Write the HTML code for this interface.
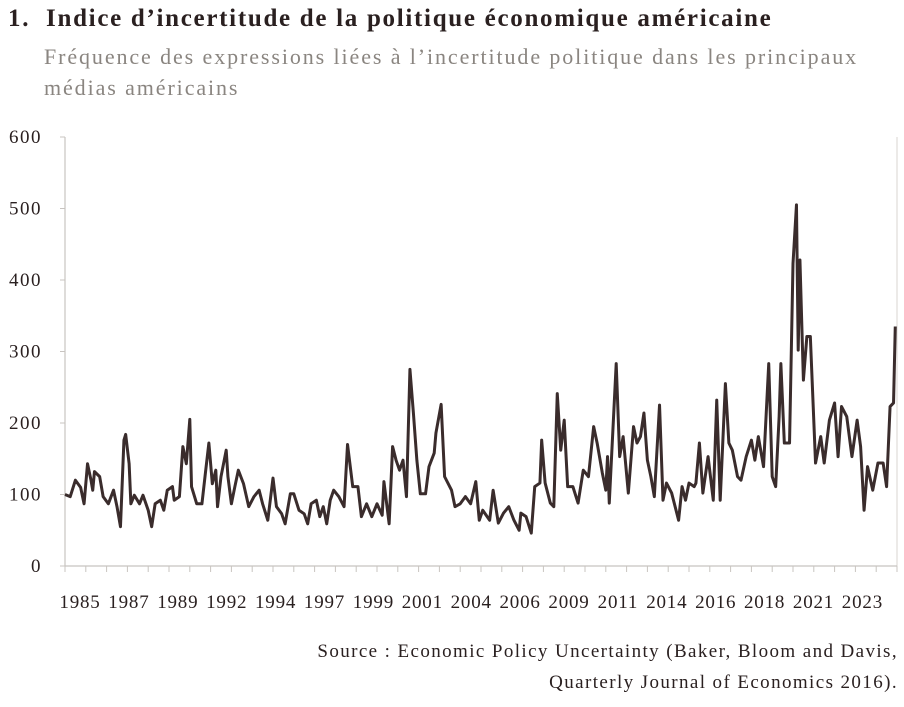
<!DOCTYPE html>
<html><head><meta charset="utf-8"><style>
body{margin:0;background:#fff;width:904px;height:707px;overflow:hidden;font-family:"Liberation Serif",serif}
.t{position:absolute;white-space:nowrap}
</style></head><body>
<div class="t" style="left:8px;top:5px;font-size:25px;letter-spacing:1.7px;font-weight:bold;color:#2a2020">1.&nbsp; Indice d’incertitude de la politique économique américaine</div>
<div class="t" style="left:44px;top:41px;font-size:22px;letter-spacing:1.9px;line-height:31px;color:#8a8580">Fréquence des expressions liées à l’incertitude politique dans les principaux<br>médias américains</div>
<svg id="c" width="904" height="707" style="position:absolute;left:0;top:0"></svg>
<div class="t" style="right:6px;top:636px;font-size:19px;letter-spacing:1.4px;line-height:31px;text-align:right;color:#2a2020">Source : Economic Policy Uncertainty (Baker, Bloom and Davis,<br>Quarterly Journal of Economics 2016).</div>
<script>
const months=[0,3,6,9,11,13,15,16,17,20,22,25,28,30,32,34,35,37,38,40,43,45,48,50,52,55,57,59,62,63,66,68,70,72,73,76,79,81,83,85,87,88,90,93,94,96,98,100,103,106,109,112,114,117,120,122,125,127,130,132,135,138,140,142,145,147,149,151,153,155,158,161,163,166,169,171,174,177,180,183,184,187,189,191,193,195,197,199,201,203,205,208,210,213,214,217,219,223,225,228,231,234,237,239,241,245,247,250,253,256,259,262,263,266,269,271,274,275,277,280,282,284,286,288,290,293,296,299,302,305,307,310,312,313,314,318,320,322,325,328,330,332,334,336,338,340,343,345,347,350,354,356,358,360,363,364,366,368,371,374,376,378,381,383,385,388,390,393,396,398,400,403,406,408,410,412,413,415,418,420,422,423,424,426,428,430,433,436,438,441,444,446,448,451,454,457,459,461,463,466,469,472,474,476,478,479];
const values=[100,97,120,110,87,143,120,106,132,125,97,87,106,83,55,176,184,143,87,99,87,99,78,55,87,92,78,106,111,92,97,167,143,205,111,87,87,130,172,115,134,83,125,162,125,87,111,134,115,83,97,106,87,64,123,83,73,59,101,101,78,73,59,87,92,69,83,59,92,106,97,83,170,111,111,69,87,69,87,71,118,59,167,148,134,148,97,275,214,148,101,101,139,158,186,226,125,106,83,87,97,87,118,64,78,64,106,60,74,83,64,50,74,69,46,111,116,176,116,88,83,241,162,204,111,111,88,134,125,195,172,130,106,153,88,283,153,181,102,195,172,181,214,148,125,97,225,92,116,102,64,111,92,116,111,116,172,102,153,92,232,92,255,172,162,125,120,153,176,148,181,139,283,125,111,209,283,172,172,423,505,302,428,260,321,321,144,181,144,204,228,153,223,209,153,204,167,78,139,106,144,144,111,223,228,335];
const yTicks=[0,100,200,300,400,500,600];
const xLabels=["1985","1987","1989","1992","1994","1997","1999","2001","2004","2006","2009","2011","2014","2016","2018","2021","2023"];
const X0=65,X1=897,Y0=566,Y1=137,NM=480;
const xs=m=>X0+m*(X1-X0)/NM;
const ys=v=>Y0-v*(Y0-Y1)/600;
const svg=document.getElementById('c');const NS='http://www.w3.org/2000/svg';
function mk(t,a){const e=document.createElementNS(NS,t);for(const k in a)e.setAttribute(k,a[k]);svg.appendChild(e);return e;}
let e=mk('line',{x1:X0,y1:Y1,x2:X0,y2:Y0,stroke:'#c8c4c0','stroke-width':1.2});


e=mk('line',{x1:X1,y1:Y1,x2:X1,y2:Y0,stroke:'#d8d4d0','stroke-width':1});


e=mk('line',{x1:X0,y1:Y0,x2:X1,y2:Y0,stroke:'#c8c4c0','stroke-width':1.2});


yTicks.forEach(v=>{
 const l=mk('line',{x1:X0-5,y1:ys(v),x2:X0,y2:ys(v),stroke:'#c8c4c0'});
 
 
 const t=mk('text',{x:42,y:ys(v)+6,'text-anchor':'end','font-size':19,'letter-spacing':1.5,fill:'#2a2020','font-family':'Liberation Serif, serif'});
 t.textContent=v;
 
 
});
for(let m=0;m<=NM;m+=12){
 const l=mk('line',{x1:xs(m),y1:Y0,x2:xs(m),y2:Y0+6,stroke:'#c8c4c0'});
 
 
}
xLabels.forEach((s,i)=>{
 const t=mk('text',{x:80+i*48.9,y:608,'text-anchor':'middle','font-size':19,'letter-spacing':0.8,fill:'#2a2020','font-family':'Liberation Serif, serif'});
 t.textContent=s;
 
 
});
const p=mk('polyline',{points:months.map((m,i)=>xs(m)+','+ys(values[i])).join(' '),fill:'none',stroke:'#3a2c2c','stroke-width':3,'stroke-linejoin':'round'});


</script>
</body></html>
